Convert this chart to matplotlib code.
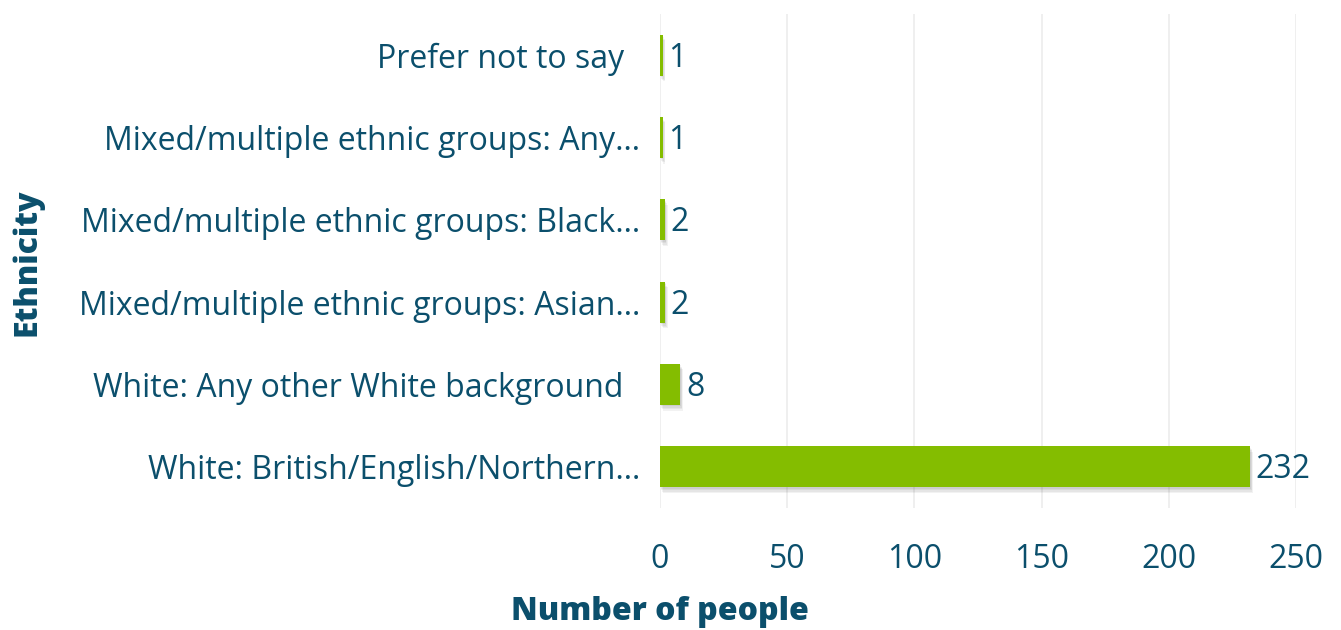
import matplotlib
matplotlib.use("Agg")
import matplotlib.pyplot as plt
import matplotlib.patheffects as pe

categories = [
    "White: British/English/Northern…",
    "White: Any other White background  ",
    "Mixed/multiple ethnic groups: Asian…",
    "Mixed/multiple ethnic groups: Black…",
    "Mixed/multiple ethnic groups: Any…",
    "Prefer not to say  ",
]
counts = [232, 8, 2, 2, 1, 1]
x_ticks = [0, 50, 100, 150, 200, 250]

TEXT = "#0b4f6c"
BAR = "#84bd00"
GRID = "#ececec"
FS = 23

plt.rcParams["font.family"] = ["Open Sans", "DejaVu Sans"]

W, H = 1341, 630
fig = plt.figure(figsize=(W / 100, H / 100), dpi=100)
ax = fig.add_axes([660 / W, (H - 508) / H, (1296 - 660) / W, (508 - 14) / H])

ypos = list(range(len(categories)))
bars = ax.barh(ypos, counts, height=0.5, color=BAR, zorder=3)
# soft drop shadow built from a few faint, stacked offsets
shadow = [pe.SimplePatchShadow(offset=(dx, -dy), shadow_rgbFace="#000000", alpha=0.05)
          for dx, dy in [(0.5, 1), (1, 2), (1.5, 3), (2, 4)]]
for b in bars:
    b.set_path_effects(shadow + [pe.Normal()])

# value labels: baseline shifted down by half the digit height so digits sit centred
for y, v in zip(ypos, counts):
    ax.annotate(str(v), (v, y), xytext=(4, -0.36 * FS), textcoords="offset points",
                va="baseline", ha="left", fontsize=FS, color=TEXT, zorder=4)

ax.set_xlim(0, 250)
ax.set_ylim(-0.5, len(categories) - 0.5)
ax.set_xticks(x_ticks)
ax.set_xticklabels([str(t) for t in x_ticks])
ax.set_yticks(ypos)
ax.set_yticklabels(categories)
ax.tick_params(axis="both", length=0, labelsize=FS, labelcolor=TEXT)
ax.tick_params(axis="x", pad=25)
ax.tick_params(axis="y", pad=14)
ax.grid(axis="x", color=GRID, linewidth=1.2, zorder=0)
for s in ax.spines.values():
    s.set_visible(False)

fig.text(27 / W, 1 - 262 / H, "Ethnicity", rotation=90, ha="center", va="center",
         fontsize=23, fontweight=800, color=TEXT)
fig.text(660 / W, 1 - 612 / H, "Number of people", ha="center", va="center",
         fontsize=23, fontweight=800, color=TEXT)

fig.savefig("out.png", dpi=100)
